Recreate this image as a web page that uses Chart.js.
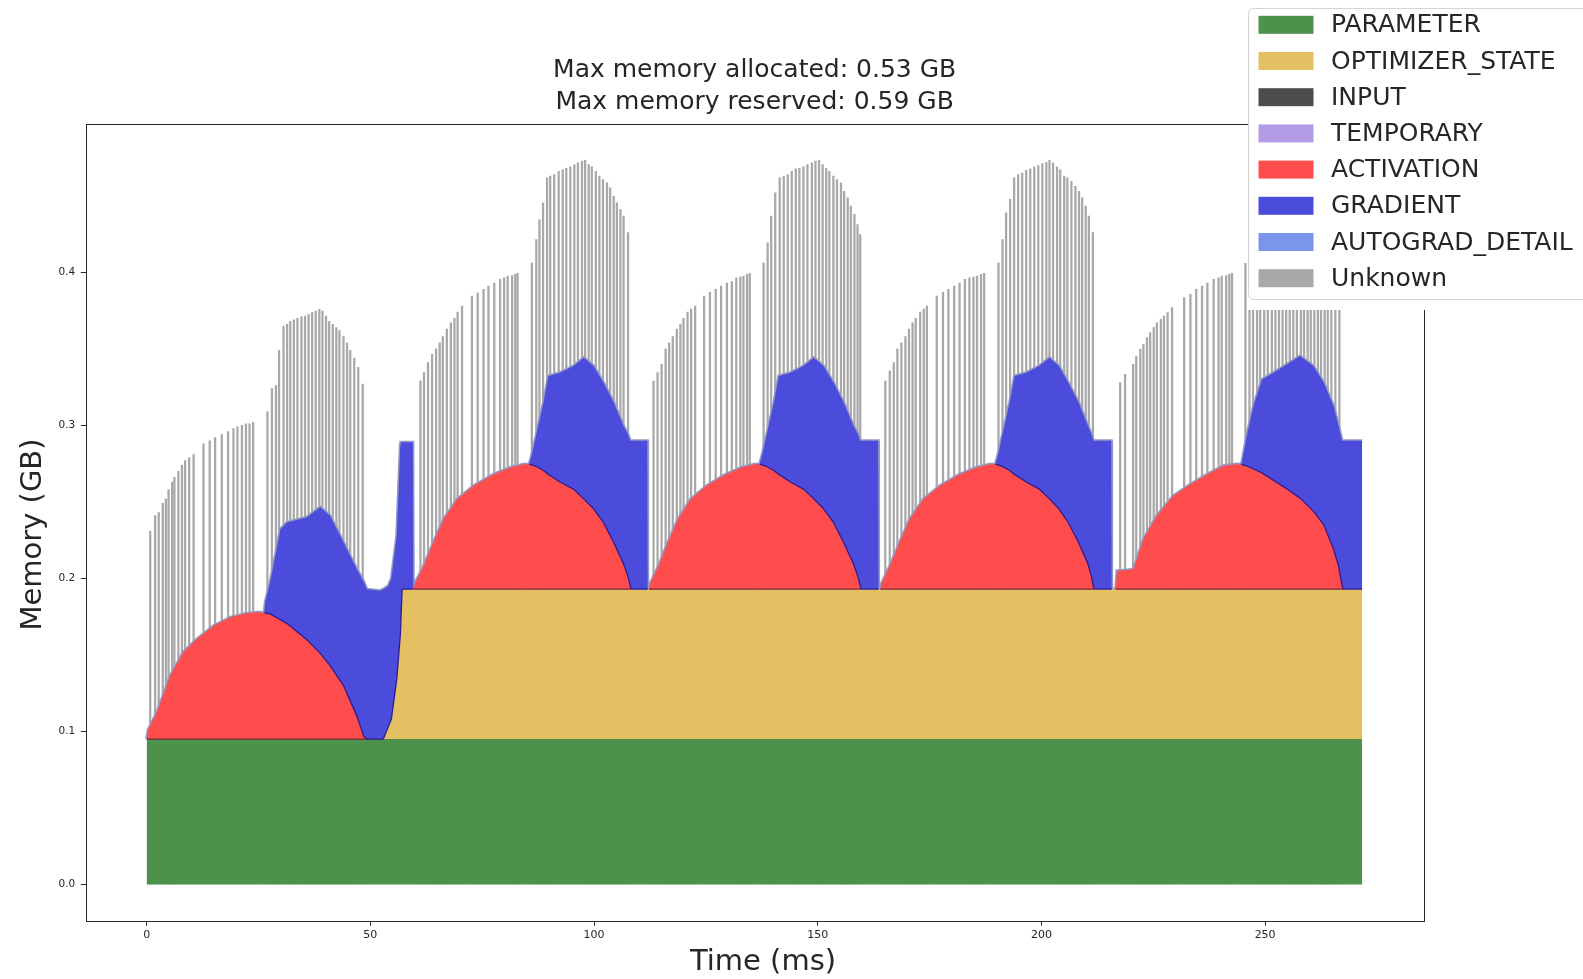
<!DOCTYPE html>
<html>
<head>
<meta charset="utf-8">
<title>Memory timeline</title>
<script src="https://cdn.jsdelivr.net/npm/chart.js@4.4.1/dist/chart.umd.min.js"></script>
<style>
  body { margin: 0; background: #fff; }
  canvas { display: block; }
</style>
</head>
<body>
<canvas id="memoryChart" width="1583" height="979"></canvas>
<script>
// sample times in ms, one row per breakpoint of the stacked areas
const times = [
  // step 1 (warm-up, no optimizer state yet)
  0.0, 0.3, 2.3, 5.3, 8.2, 11.2, 15.0, 18.7, 22.0, 24.7, 26.3, 26.5, 27.6, 29.9, 31.4, 35.8,
  38.8, 41.0, 44.0, 47.0, 48.5, 49.2, 52.2, 52.9, 54.0, 54.7, 55.9, 56.7, 56.8, 57.1, 59.5, 59.6,
  // step 2
  59.7, 60.0, 61.9, 64.1, 66.4, 69.4, 73.1, 77.5, 81.3, 84.2, 85.5, 86.1, 87.2, 88.7, 89.8, 92.4,
  95.4, 97.7, 99.9, 102.1, 104.4, 106.6, 107.6, 108.1, 108.3, 111.9, 112.0,
  // step 3
  112.3, 112.6, 114.4, 116.5, 118.8, 121.6, 125.1, 129.4, 133.0, 135.8, 137.0, 137.6, 138.7, 140.2, 141.3, 143.9,
  146.8, 149.1, 151.3, 153.5, 155.8, 158.0, 159.0, 159.5, 159.7, 163.5, 163.6,
  // step 4
  164.0, 164.3, 166.1, 168.3, 170.6, 173.6, 177.3, 181.7, 185.5, 188.4, 189.7, 190.3, 191.4, 192.9, 194.0, 196.6,
  199.5, 201.8, 203.9, 206.0, 208.3, 210.4, 211.2, 211.6, 211.8, 215.6, 215.7,
  // step 5
  216.6, 216.9, 217.6, 220.6, 222.8, 225.8, 229.5, 233.3, 237.0, 240.7, 243.7, 244.7, 245.9, 247.4, 249.3, 251.9,
  254.9, 257.8, 260.8, 263.1, 265.3, 266.4, 267.2, 267.4, 271.7
];

const parameterGB = 0.095;

const optimizerState = [
  0, 0, 0, 0, 0, 0, 0, 0, 0, 0, 0, 0, 0, 0, 0, 0,
  0, 0, 0, 0, 0, 0, 0, 0, 0.008, 0.013, 0.039, 0.068, 0.075, 0.098, 0.098, 0.098,
  0.098, 0.098, 0.098, 0.098, 0.098, 0.098, 0.098, 0.098, 0.098, 0.098, 0.098, 0.098, 0.098, 0.098, 0.098, 0.098,
  0.098, 0.098, 0.098, 0.098, 0.098, 0.098, 0.098, 0.098, 0.098, 0.098, 0.098,
  0.098, 0.098, 0.098, 0.098, 0.098, 0.098, 0.098, 0.098, 0.098, 0.098, 0.098, 0.098, 0.098, 0.098, 0.098, 0.098,
  0.098, 0.098, 0.098, 0.098, 0.098, 0.098, 0.098, 0.098, 0.098, 0.098, 0.098,
  0.098, 0.098, 0.098, 0.098, 0.098, 0.098, 0.098, 0.098, 0.098, 0.098, 0.098, 0.098, 0.098, 0.098, 0.098, 0.098,
  0.098, 0.098, 0.098, 0.098, 0.098, 0.098, 0.098, 0.098, 0.098, 0.098, 0.098,
  0.098, 0.098, 0.098, 0.098, 0.098, 0.098, 0.098, 0.098, 0.098, 0.098, 0.098, 0.098, 0.098, 0.098, 0.098, 0.098,
  0.098, 0.098, 0.098, 0.098, 0.098, 0.098, 0.098, 0.098, 0.098
];

const activation = [
  0, 0.006, 0.0176, 0.0415, 0.0568, 0.0654, 0.0741, 0.0796, 0.082, 0.0829, 0.0826, 0.0825, 0.0818, 0.078, 0.0755, 0.065,
  0.056, 0.048, 0.035, 0.015, 0.002, 0, 0, 0, 0, 0, 0, 0, 0, 0, 0, 0,
  0, 0.004, 0.015, 0.0306, 0.0458, 0.0588, 0.0675, 0.075, 0.0795, 0.0817, 0.0816, 0.0812, 0.080, 0.0775, 0.075, 0.070,
  0.0654, 0.059, 0.0525, 0.0436, 0.0305, 0.0165, 0.008, 0.002, 0, 0, 0,
  0, 0.004, 0.015, 0.0306, 0.0458, 0.0588, 0.0675, 0.075, 0.0795, 0.0817, 0.0816, 0.0812, 0.080, 0.0775, 0.075, 0.070,
  0.0654, 0.059, 0.0525, 0.0436, 0.0305, 0.0165, 0.008, 0.002, 0, 0, 0,
  0, 0.004, 0.015, 0.0306, 0.0458, 0.0588, 0.0675, 0.075, 0.0795, 0.0817, 0.0816, 0.0812, 0.080, 0.0775, 0.075, 0.070,
  0.0654, 0.059, 0.0525, 0.0436, 0.0305, 0.0165, 0.008, 0.002, 0, 0, 0,
  0, 0.012, 0.012, 0.013, 0.0327, 0.048, 0.061, 0.0686, 0.075, 0.0806, 0.0817, 0.0815, 0.0805, 0.0785, 0.076, 0.071,
  0.0655, 0.0595, 0.051, 0.042, 0.026, 0.0153, 0.0023, 0, 0
];

const gradient = [
  0, 0, 0, 0, 0, 0, 0, 0, 0, 0, 0, 0.0069, 0.0207, 0.0592, 0.0661, 0.080,
  0.0955, 0.098, 0.0936, 0.096, 0.101, 0.098, 0.097, 0.098, 0.092, 0.092, 0.094, 0.124, 0.119, 0.096, 0.096, 0,
  0, 0, 0, 0, 0, 0, 0, 0, 0, 0, 0, 0.0068, 0.0224, 0.0445, 0.0643, 0.0715,
  0.0804, 0.0923, 0.0933, 0.0914, 0.0915, 0.0902, 0.093, 0.095, 0.097, 0.097, 0,
  0, 0, 0, 0, 0, 0, 0, 0, 0, 0, 0, 0.0068, 0.0224, 0.0445, 0.0643, 0.0715,
  0.0804, 0.0923, 0.0933, 0.0914, 0.0915, 0.0902, 0.093, 0.095, 0.097, 0.097, 0,
  0, 0, 0, 0, 0, 0, 0, 0, 0, 0, 0, 0.0068, 0.0224, 0.0445, 0.0643, 0.0715,
  0.0804, 0.0923, 0.0933, 0.0914, 0.0915, 0.0902, 0.093, 0.095, 0.097, 0.097, 0,
  0, 0, 0, 0, 0, 0, 0, 0, 0, 0, 0, 0, 0.0197, 0.0412, 0.061, 0.0705,
  0.0815, 0.0929, 0.0948, 0.093, 0.0937, 0.0917, 0.0947, 0.097, 0.097
];

// the grey "Unknown" spikes: time (ms) and total memory at the tip (GB)
const spikeTimes = [
  0.8, 1.9, 2.7, 3.6, 4.3, 4.9, 5.7, 6.2, 7.1, 7.9, 8.6, 9.5, 10.5, 12.7, 14.1, 15.3, 16.8, 18.2, 19.4, 20.3, 21.3, 22.2, 23.0, 23.8,
  27.0, 28.0, 28.9, 29.6, 30.6, 31.4, 32.1, 32.9, 33.7, 34.6, 35.4, 36.2, 37.0, 37.8, 38.6, 39.3, 40.1, 40.8, 41.6, 42.4, 43.1, 44.0, 44.8, 45.5, 46.4, 47.3, 48.3,
  61.2, 62.0, 62.9, 63.8, 64.7, 65.5, 66.2, 67.1, 68.0, 68.8, 69.5, 70.5, 72.7, 74.0, 75.3, 76.4, 77.7, 79.0, 79.9, 80.7, 81.7, 82.4, 82.9,
  86.1, 87.1, 87.8, 88.6, 89.5, 90.2, 91.1, 92.1, 93.0, 93.8, 94.7, 95.6, 96.4, 97.3, 98.0, 98.8, 99.5, 100.4, 101.2, 102.0, 102.9, 103.6, 104.4, 105.1, 105.9, 106.6, 107.6,
  113.3, 114.2, 115.1, 116.0, 116.8, 117.6, 118.5, 119.3, 120.0, 120.9, 121.7, 122.6, 124.6, 125.9, 127.2, 128.4, 129.7, 130.8, 131.8, 132.7, 133.4, 134.2, 134.8,
  137.9, 138.8, 139.6, 140.5, 141.5, 142.4, 143.3, 144.2, 145.1, 145.9, 146.8, 147.7, 148.7, 149.5, 150.3, 151.1, 151.9, 152.6, 153.5, 154.3, 155.2, 155.9, 156.7, 157.4, 158.2, 158.9, 159.5,
  165.1, 166.1, 167.0, 167.8, 168.7, 169.6, 170.4, 171.2, 171.9, 172.9, 173.7, 174.4, 176.6, 178.0, 179.2, 180.5, 181.7, 182.9, 183.9, 184.8, 185.6, 186.5, 187.2,
  190.4, 191.3, 192.1, 193.0, 193.9, 194.8, 195.7, 196.6, 197.5, 198.4, 199.3, 200.2, 201.1, 201.8, 202.6, 203.5, 204.2, 205.1, 205.8, 206.7, 207.6, 208.4, 209.1, 209.9, 210.6, 211.5,
  217.6, 218.7, 220.5, 221.2, 222.1, 222.8, 223.6, 224.3, 225.1, 225.8, 226.7, 227.4, 228.2, 229.2, 231.9, 233.3, 234.6, 235.9, 237.1, 238.5, 239.6, 240.3, 241.3, 242.0, 242.6,
  245.6, 246.5, 247.3, 248.2, 248.9, 249.8, 250.6, 251.5, 252.3, 253.1, 253.9, 254.7, 255.5, 256.3, 257.1, 258.0, 258.7, 259.5, 260.2, 261.0, 261.8, 262.5, 263.3, 264.0, 264.8, 265.7, 266.6
];
const spikeTops = [
  0.231, 0.241, 0.243, 0.249, 0.252, 0.258, 0.263, 0.266, 0.270, 0.274, 0.277, 0.279, 0.281, 0.288, 0.290, 0.292, 0.294, 0.296, 0.298, 0.299, 0.300, 0.301, 0.301, 0.302,
  0.309, 0.324, 0.326, 0.349, 0.365, 0.366, 0.368, 0.369, 0.370, 0.371, 0.3715, 0.3726, 0.3737, 0.3747, 0.3758, 0.3747, 0.3715, 0.368, 0.366, 0.364, 0.362, 0.358, 0.354, 0.349, 0.344, 0.338, 0.327,
  0.329, 0.3345, 0.341, 0.3465, 0.350, 0.354, 0.358, 0.363, 0.367, 0.370, 0.374, 0.378, 0.3845, 0.3867, 0.389, 0.391, 0.393, 0.3955, 0.3965, 0.3976, 0.398, 0.3987, 0.3994,
  0.4063, 0.4215, 0.4346, 0.4455, 0.4618, 0.4629, 0.464, 0.466, 0.467, 0.468, 0.469, 0.4705, 0.4716, 0.4727, 0.4733, 0.4705, 0.469, 0.466, 0.4629, 0.4607, 0.4585, 0.4553, 0.4498, 0.4455, 0.4411, 0.4368, 0.426,
  0.329, 0.3345, 0.340, 0.350, 0.354, 0.358, 0.363, 0.366, 0.370, 0.374, 0.376, 0.378, 0.3845, 0.387, 0.389, 0.391, 0.393, 0.394, 0.3965, 0.397, 0.3976, 0.3987, 0.3994,
  0.4063, 0.4194, 0.4368, 0.452, 0.4618, 0.4629, 0.464, 0.466, 0.4677, 0.468, 0.469, 0.4705, 0.4716, 0.4727, 0.4733, 0.4705, 0.468, 0.466, 0.4629, 0.4607, 0.4585, 0.453, 0.4487, 0.4433, 0.4379, 0.4313, 0.4248,
  0.329, 0.3356, 0.341, 0.350, 0.354, 0.358, 0.363, 0.367, 0.370, 0.374, 0.376, 0.378, 0.3845, 0.387, 0.389, 0.391, 0.393, 0.3955, 0.3965, 0.397, 0.3976, 0.3987, 0.3994,
  0.4063, 0.4215, 0.439, 0.4477, 0.4618, 0.464, 0.465, 0.4668, 0.4677, 0.469, 0.4698, 0.4711, 0.472, 0.4733, 0.4716, 0.469, 0.467, 0.4629, 0.4618, 0.4596, 0.4563, 0.453, 0.4487, 0.4433, 0.4368, 0.426,
  0.328, 0.3334, 0.340, 0.3454, 0.3497, 0.353, 0.3574, 0.3606, 0.364, 0.367, 0.3693, 0.3715, 0.3737, 0.377, 0.3835, 0.3856, 0.389, 0.391, 0.393, 0.3954, 0.3965, 0.3976, 0.398, 0.3987, 0.3994,
  0.406, 0.42, 0.437, 0.448, 0.462, 0.464, 0.465, 0.467, 0.468, 0.469, 0.470, 0.471, 0.472, 0.473, 0.471, 0.469, 0.467, 0.463, 0.461, 0.459, 0.456, 0.453, 0.449, 0.444, 0.437, 0.43, 0.423
];

const xTicks = [0, 50, 100, 150, 200, 250];
const yTicks = [0, 0.1, 0.2, 0.3, 0.4];
const titleLines = ['Max memory allocated: 0.53 GB', 'Max memory reserved: 0.59 GB'];

const FONT = '"DejaVu Sans", "Liberation Sans", sans-serif';
const INK = '#262626';

// turn a value list into {x, y} points on the shared time axis
function series(values) {
  return times.map((t, i) => ({ x: t, y: values[i] }));
}

function areaLayer(label, values, color, extra) {
  return Object.assign({
    type: 'line',
    label: label,
    data: series(values),
    backgroundColor: color,
    borderColor: color,
    borderWidth: 0,
    pointRadius: 0,
    tension: 0,
    fill: '-1',
    stack: 'memory'
  }, extra || {});
}

// stroke a stacked layer's top edge only where keep(i) is true
function strokeEdge(chart, datasetIndex, keep, color, width) {
  const pts = chart.getDatasetMeta(datasetIndex).data;
  const ctx = chart.ctx;
  ctx.save();
  ctx.strokeStyle = color;
  ctx.lineWidth = width;
  ctx.lineJoin = 'round';
  ctx.beginPath();
  for (let i = 1; i < pts.length; i++) {
    if (keep(i - 1) || keep(i)) {
      ctx.moveTo(pts[i - 1].x, pts[i - 1].y);
      ctx.lineTo(pts[i].x, pts[i].y);
    }
  }
  ctx.stroke();
  ctx.restore();
}

// title, axis labels, frame and the legend box are drawn by hand (matplotlib look)
const decorations = {
  id: 'decorations',
  afterDatasetsDraw(chart) {
    const ctx = chart.ctx;
    const a = chart.chartArea;
    // dark seams under the red and between red and blue
    strokeEdge(chart, 2, i => activation[i] > 0, '#7a2636', 1.2);
    strokeEdge(chart, 4, i => gradient[i] > 0, '#2c1b8e', 1.3);

    ctx.save();
    ctx.strokeStyle = INK;
    ctx.lineWidth = 1;
    ctx.strokeRect(Math.round(a.left) + 0.5, Math.round(a.top) + 0.5,
      Math.round(a.right - a.left), Math.round(a.bottom - a.top));
    ctx.restore();
  },
  afterDraw(chart) {
    const ctx = chart.ctx;
    const a = chart.chartArea;
    const cx = (a.left + a.right) / 2;
    ctx.save();
    ctx.fillStyle = INK;
    ctx.textAlign = 'center';
    ctx.textBaseline = 'middle';
    ctx.font = '25px ' + FONT;
    ctx.fillText(titleLines[0], cx, 70.5);
    ctx.fillText(titleLines[1], cx, 102.5);

    ctx.font = '29px ' + FONT;
    ctx.fillText('Time (ms)', 763, 962);
    ctx.save();
    ctx.translate(33.5, 534.5);
    ctx.rotate(-Math.PI / 2);
    ctx.fillText('Memory (GB)', 0, 0);
    ctx.restore();

    // legend
    ctx.fillStyle = '#ffffff';
    ctx.fillRect(1248, 8, 340, 302);
    ctx.strokeStyle = '#d4d4d4';
    ctx.lineWidth = 1;
    ctx.beginPath();
    ctx.roundRect(1248.5, 8.5, 345, 291, 5);
    ctx.stroke();

    ctx.font = '25px ' + FONT;
    ctx.textAlign = 'left';
    chart.data.datasets.forEach((ds, i) => {
      const y = 24.8 + i * 36.2;
      ctx.fillStyle = ds.legendColor || ds.backgroundColor;
      ctx.fillRect(1258.5, y - 9, 55, 18);
      ctx.fillStyle = INK;
      ctx.fillText(ds.label, 1331, y + 1);
    });
    ctx.restore();
  }
};

const ctx = document.getElementById('memoryChart').getContext('2d');
const memoryChart = new Chart(ctx, {
  type: 'line',
  data: {
    datasets: [
      areaLayer('PARAMETER', times.map(() => parameterGB), '#4c924c', { fill: 'origin' }),
      areaLayer('OPTIMIZER_STATE', optimizerState, '#e5c063'),
      areaLayer('INPUT', times.map(() => 0), '#4c4c4c'),
      areaLayer('TEMPORARY', times.map(() => 0), '#b39be6'),
      areaLayer('ACTIVATION', activation, '#ff4c4c'),
      areaLayer('GRADIENT', gradient, '#4c4cdc'),
      areaLayer('AUTOGRAD_DETAIL', times.map(() => 0), '#7a96ea', {
        borderColor: '#9499c2',
        borderWidth: 3
      }),
      {
        type: 'bar',
        label: 'Unknown',
        data: spikeTimes.map((t, i) => ({ x: t, y: spikeTops[i] })),
        backgroundColor: '#a8a8a8',
        borderWidth: 0,
        barThickness: 1.6,
        grouped: false,
        order: 1
      }
    ]
  },
  options: {
    responsive: false,
    animation: false,
    devicePixelRatio: 1,
    events: [],
    layout: { padding: { top: 124, right: 159.5, bottom: 0, left: 0 } },
    plugins: {
      legend: { display: false },
      title: { display: false },
      tooltip: { enabled: false }
    },
    scales: {
      x: {
        type: 'linear',
        min: -13.6,
        max: 285.4,
        offset: false,
        afterFit: s => { s.height = 58.3; },
        afterBuildTicks: s => { s.ticks = xTicks.map(v => ({ value: v })); },
        ticks: {
          autoSkip: false,
          maxRotation: 0,
          padding: 3,
          color: INK,
          font: { family: FONT, size: 11 },
          callback: v => String(v)
        },
        grid: { offset: false, drawOnChartArea: false, drawTicks: true, tickLength: 5, tickColor: INK },
        border: { display: false }
      },
      y: {
        type: 'linear',
        stacked: true,
        min: -0.0237,
        max: 0.497,
        afterFit: s => { s.width = 85.8; },
        afterBuildTicks: s => { s.ticks = yTicks.map(v => ({ value: v })); },
        ticks: {
          padding: 5.5,
          color: INK,
          font: { family: FONT, size: 10.5 },
          callback: v => Number(v).toFixed(1)
        },
        grid: { offset: false, drawOnChartArea: false, drawTicks: true, tickLength: 5, tickColor: INK },
        border: { display: false }
      }
    }
  },
  plugins: [decorations]
});
</script>
</body>
</html>
